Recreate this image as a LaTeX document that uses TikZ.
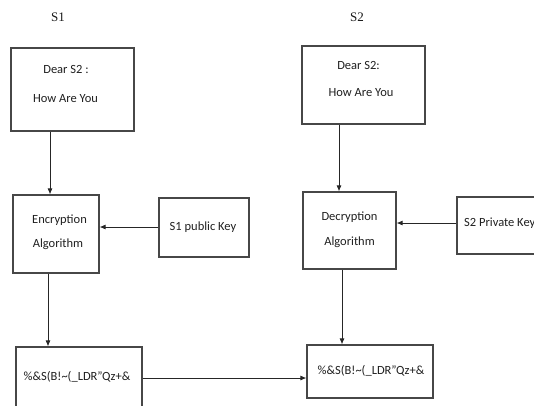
\documentclass[tikz,border=0pt]{standalone}
\usepackage{fontspec}
\setmainfont{Carlito}
\newfontfamily\labelserif{Liberation Serif}
\usetikzlibrary{arrows.meta}
\tikzset{
  box/.style={draw=black!72, line width=1.2pt, inner sep=0pt, fill=none},
  txt/.style={text=black!88, font=\fontsize{12.5}{14}\selectfont, inner sep=0pt, anchor=center},
  ttl/.style={text=black!90, font=\labelserif\fontsize{13}{14}\selectfont, inner sep=0pt},
  arr/.style={draw=black!85, line width=0.8pt, -{Latex[length=6pt,width=5pt]}}
}
\begin{document}
\begin{tikzpicture}[x=1pt,y=-1pt]
\useasboundingbox (0,0) rectangle (534,405);
% titles
\node[ttl] (s1) at (58,17) {S1};
\node[ttl] (s2) at (357,17) {S2};
% boxes
\node[box, minimum width=123pt, minimum height=83pt] (b1) at (72.5,89.5) {};
\node[box, minimum width=123pt, minimum height=78pt] (b2) at (363.5,85) {};
\node[box, minimum width=86pt, minimum height=78pt] (enc) at (56,234) {};
\node[box, minimum width=90pt, minimum height=59pt] (pub) at (204,227.5) {};
\node[box, minimum width=93pt, minimum height=77pt] (dec) at (349.5,230.5) {};
\node[box, minimum width=90pt, minimum height=57pt] (priv) at (502,225.5) {};
\node[box, minimum width=126pt, minimum height=70pt] (c1) at (79,382) {};
\node[box, minimum width=126pt, minimum height=53pt] (c2) at (370,371.5) {};
% texts
\node[txt] (t1a) at (66,69) {Dear S2 :};
\node[txt] (t1b) at (65.5,99) {How Are You};
\node[txt] (t2a) at (358.5,65) {Dear S2:};
\node[txt] (t2b) at (361,93) {How Are You};
\node[txt] (tea) at (59.5,220) {Encryption};
\node[txt] (teb) at (58,244) {Algorithm};
\node[txt] (tp) at (203,227) {S1 public Key};
\node[txt] (tda) at (349.5,217) {Decryption};
\node[txt] (tdb) at (349.5,242) {Algorithm};
\node[txt, anchor=west] (tk) at (464,223) {S2 Private Key};
\node[txt] (tc1) at (77,377) {\%\&S(B!\textasciitilde(\_LDR”Qz+\&};
\node[txt] (tc2) at (371,371) {\%\&S(B!\textasciitilde(\_LDR”Qz+\&};
% connectors
\draw[arr] (b1.south -| 50,0) -- (enc.north -| 50,0);
\draw[arr] (enc.south -| 48,0) -- (c1.north -| 48,0);
\draw[arr] (pub.west |- 0,227) -- (enc.east |- 0,227);
\draw[arr] (b2.south -| 339,0) -- (dec.north -| 339,0);
\draw[arr] (priv.west |- 0,223) -- (dec.east |- 0,223);
\draw[arr] (dec.south -| 342,0) -- (c2.north -| 342,0);
\draw[arr] (c1.east |- 0,378) -- (c2.west |- 0,378);
\end{tikzpicture}
\end{document}
